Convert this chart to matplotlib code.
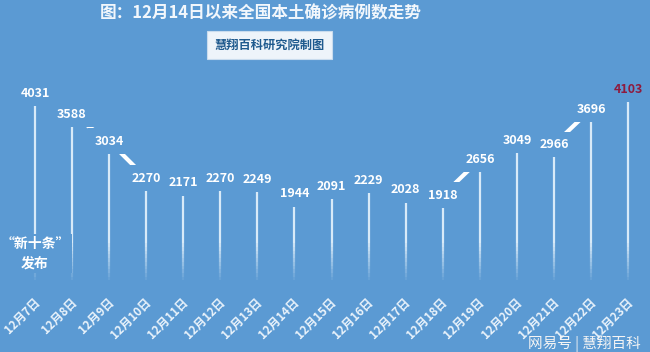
import matplotlib
matplotlib.use("Agg")
import matplotlib.pyplot as plt
import numpy as np

plt.rcParams['font.family'] = ['Noto Sans CJK SC', 'DejaVu Sans']

dates = ["12月7日", "12月8日", "12月9日", "12月10日", "12月11日", "12月12日",
         "12月13日", "12月14日", "12月15日", "12月16日", "12月17日", "12月18日",
         "12月19日", "12月20日", "12月21日", "12月22日", "12月23日"]
cases = [4031, 3588, 3034, 2270, 2171, 2270, 2249, 1944, 2091, 2229, 2028, 1918,
         2656, 3049, 2966, 3696, 4103]

title = "图：12月14日以来全国本土确诊病例数走势"
subtitle = "慧翔百科研究院制图"
note = "“新十条”\n发布"
watermark = "网易号 | 慧翔百科"

bg = "#5B9AD3"
stem_color = "#D8EAF8"

fig = plt.figure(figsize=(6.5, 3.52), dpi=100, facecolor=bg)
ax = fig.add_axes([0, 0, 1, 1])
ax.set_facecolor(bg)
ax.set_xlim(-0.944, 16.59)
ax.set_ylim(-1330, 5956)
ax.axis("off")

x = np.arange(len(cases))

# stems: solid part, then fading towards the bottom
for xi, v in zip(x, cases):
    ax.plot([xi, xi], [v - 210, 1000], color=stem_color, lw=1.6, solid_capstyle="butt", zorder=2)
    steps = np.linspace(1000, 150, 12)
    for k in range(len(steps) - 1):
        a = 1 - k / (len(steps) - 1)
        ax.plot([xi, xi], [steps[k], steps[k + 1]], color=stem_color, lw=1.6,
                alpha=a, solid_capstyle="butt", zorder=2)

# trend line through label centres, masked by label boxes
ax.plot(x, cases, color="white", lw=3, zorder=3, solid_capstyle="round")

for xi, v in zip(x, cases):
    col = "#8E1B3E" if xi == len(cases) - 1 else "white"
    ax.text(xi, v, str(v), ha="center", va="center", fontsize=9, fontweight="bold",
            color=col, zorder=4,
            bbox=dict(boxstyle="square,pad=0.5", facecolor=bg, edgecolor="none"))

for xi, d in zip(x, dates):
    ax.text(xi + 0.2, -170, d, rotation=45, ha="right", va="top", fontsize=8.5,
            fontweight="bold", color="#EAF3FB", zorder=4)

ax.text(0.0, 700, note, ha="center", va="center", fontsize=10, fontweight="bold",
        color="white", linespacing=1.5, zorder=4,
        bbox=dict(boxstyle="square,pad=0.2", facecolor=bg, edgecolor="none"))

fig.text(0.401, 0.962, title, ha="center", va="center", fontsize=12, fontweight="bold",
         color="#F2F7FC")
fig.text(0.415, 0.872, subtitle, ha="center", va="center", fontsize=8.8, fontweight="bold",
         color="#1F5A8E",
         bbox=dict(boxstyle="square,pad=0.6", facecolor="#EEF4FA", edgecolor="#C9DCEE", lw=0.8))

fig.text(0.985, 0.025, watermark, ha="right", va="center", fontsize=10.5,
         color="#F4F4F4", zorder=5)

fig.savefig("out.png", dpi=100, facecolor=bg)
